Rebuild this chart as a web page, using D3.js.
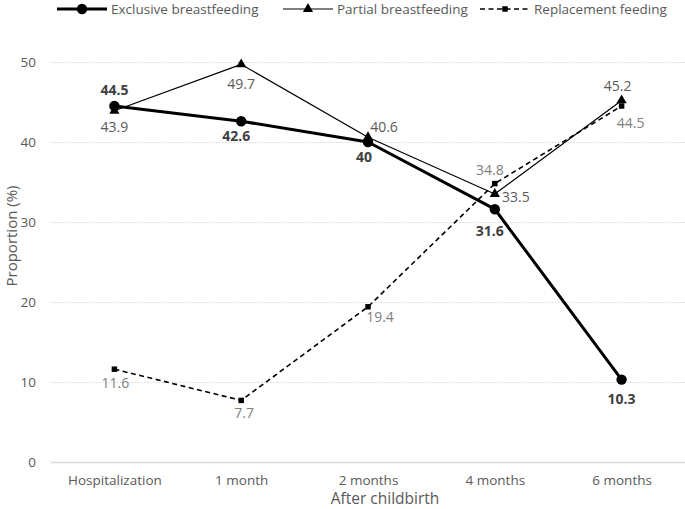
<!DOCTYPE html>
<html>
<head>
<meta charset="utf-8">
<script src="https://cdn.jsdelivr.net/npm/d3@7"></script>
<style>
  body { margin: 0; background: #fff; }
  text { font-family: "Open Sans", sans-serif; }
</style>
</head>
<body>
<div id="chart"></div>
<script>
// Data

var categories = ["Hospitalization", "1 month", "2 months", "4 months", "6 months"];
var exclusive = [44.5, 42.6, 40, 31.6, 10.3];
var partial = [43.9, 49.7, 40.6, 33.5, 45.2];
var replacement = [11.6, 7.7, 19.4, 34.8, 44.5];
var yTicks = [0, 10, 20, 30, 40, 50];

// label offsets (dx, dy) from each point, like Excel's label placement
var exclusiveLabelPos = [[0, -16], [-5, 15], [-4, 15], [-5, 22], [0, 19]];
var partialLabelPos = [[0, 16], [0, 20], [16, -10], [21, 3], [-4, -14]];
var replacementLabelPos = [[1, 14], [3, 13], [12, 10], [-5, -14], [9, 17]];

var width = 685,
    height = 509;

var svg = d3.select("#chart")
    .append("svg")
    .attr("width", width)
    .attr("height", height);

var x = d3.scalePoint()
    .domain(categories)
    .range([51, 685])
    .padding(0.5);

var y = d3.scaleLinear()
    .domain([0, 50])
    .range([462, 62]);

// Gridlines

svg.append("g").selectAll("line")
    .data(yTicks)
    .enter().append("line")
    .attr("x1", 51)
    .attr("x2", 685)
    .attr("y1", function(d) { return y(d) + 0.5; })
    .attr("y2", function(d) { return y(d) + 0.5; })
    .attr("stroke", "#d9d9d9")
    .attr("stroke-width", function(d) { return d === 0 ? 1.5 : 1; })
    .attr("stroke-dasharray", function(d) { return d === 0 ? null : "1.5,1.5"; });

// Y axis labels

var yAxis = svg.append("g")
    .attr("transform", "translate(51,0)")
    .call(d3.axisLeft(y).tickValues(yTicks).tickSize(0).tickPadding(15));
yAxis.select(".domain").remove();
yAxis.selectAll("text")
    .attr("font-family", "Open Sans")
    .attr("font-size", "13.5px")
    .attr("fill", "#595959");

// X axis labels

var xAxis = svg.append("g")
    .attr("transform", "translate(0,462)")
    .call(d3.axisBottom(x).tickSize(0).tickPadding(13));
xAxis.select(".domain").remove();
xAxis.selectAll("text")
    .attr("font-family", "Open Sans")
    .attr("font-size", "13.5px")
    .attr("fill", "#595959");

// Axis titles

svg.append("text")
    .attr("x", 385)
    .attr("y", 499)
    .attr("dy", ".35em")
    .attr("text-anchor", "middle")
    .attr("font-size", "15.5px")
    .attr("fill", "#595959")
    .text("After childbirth");

svg.append("text")
    .attr("transform", "translate(12,236) rotate(-90)")
    .attr("dy", ".35em")
    .attr("text-anchor", "middle")
    .attr("font-size", "15px")
    .attr("fill", "#595959")
    .text("Proportion (%)");

// Series

var series = [
    { name: "Exclusive breastfeeding", values: exclusive, pos: exclusiveLabelPos,
      width: 3, dash: null, marker: "circle", labelColor: "#404040", weight: "bold" },
    { name: "Partial breastfeeding", values: partial, pos: partialLabelPos,
      width: 1.2, dash: null, marker: "triangle", labelColor: "#595959", weight: "normal" },
    { name: "Replacement feeding", values: replacement, pos: replacementLabelPos,
      width: 1.6, dash: "5,3.5", marker: "square", labelColor: "#808080", weight: "normal" }
];

var line = d3.line()
    .x(function(d, i) { return x(categories[i]); })
    .y(function(d) { return y(d); });

function markerPath(type) {
    if (type === "circle") return d3.symbol().type(d3.symbolCircle).size(85)();
    if (type === "triangle") return d3.symbol().type(d3.symbolTriangle).size(45)();
    return d3.symbol().type(d3.symbolSquare).size(30)();
}

series.forEach(function(s) {
    var g = svg.append("g");
    g.append("path")
        .attr("d", line(s.values))
        .attr("fill", "none")
        .attr("stroke", "#000")
        .attr("stroke-width", s.width)
        .attr("stroke-dasharray", s.dash)
        .attr("stroke-linejoin", "round");
    g.selectAll("path.mark")
        .data(s.values)
        .enter().append("path")
        .attr("class", "mark")
        .attr("transform", function(d, i) { return "translate(" + x(categories[i]) + "," + y(d) + ")"; })
        .attr("d", markerPath(s.marker))
        .attr("fill", "#000");
});

// Data labels on top

series.forEach(function(s) {
    svg.append("g").selectAll("text")
        .data(s.values)
        .enter().append("text")
        .attr("x", function(d, i) { return x(categories[i]) + s.pos[i][0]; })
        .attr("y", function(d, i) { return y(d) + s.pos[i][1]; })
        .attr("dy", ".35em")
        .attr("text-anchor", "middle")
        .attr("font-size", "14px")
        .attr("font-weight", s.weight)
        .attr("fill", s.labelColor)
        .text(function(d) { return d; });
});

// Legend

var legendX = [57, 283, 480];
var legend = svg.append("g");
series.forEach(function(s, i) {
    var lx = legendX[i];
    legend.append("line")
        .attr("x1", lx)
        .attr("x2", lx + 50)
        .attr("y1", 9)
        .attr("y2", 9)
        .attr("stroke", "#000")
        .attr("stroke-width", s.width)
        .attr("stroke-dasharray", s.dash);
    legend.append("path")
        .attr("transform", "translate(" + (lx + 25) + ",9)")
        .attr("d", markerPath(s.marker))
        .attr("fill", "#000");
    legend.append("text")
        .attr("x", lx + 54)
        .attr("y", 9)
        .attr("dy", ".35em")
        .attr("font-size", "13.5px")
        .attr("fill", "#595959")
        .text(s.name);
});
</script>
</body>
</html>
